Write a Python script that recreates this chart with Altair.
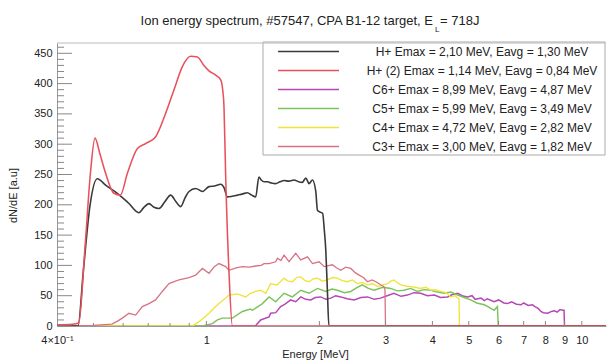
import altair as alt
import pandas as pd

# ---------------- data ----------------
series_names = [
    "H+  Emax = 2,10 MeV, Eavg = 1,30 MeV",
    "H+ (2) Emax = 1,14 MeV, Eavg = 0,84 MeV",
    "C6+ Emax = 8,99 MeV, Eavg = 4,87 MeV",
    "C5+ Emax = 5,99 MeV, Eavg = 3,49 MeV",
    "C4+ Emax = 4,72 MeV, Eavg = 2,82 MeV",
    "C3+ Emax = 3,00 MeV, Eavg = 1,82 MeV",
]
series_colors = ["#3a3a3a", "#e8505c", "#b548b5", "#7cc35a", "#f0e33a", "#d77383"]
series_widths = [1.6, 1.3, 1.1, 1.1, 1.1, 1.1]

hp_E = [0.40, 0.455, 0.47, 0.49, 0.512, 0.54, 0.579, 0.62, 0.661, 0.68, 0.703, 0.725, 0.748,
        0.775, 0.803, 0.83, 0.854, 0.878, 0.899, 0.936, 0.976, 1.016, 1.05, 1.092, 1.115, 1.137,
        1.17, 1.21, 1.25, 1.286, 1.32, 1.353, 1.38, 1.40, 1.424, 1.454, 1.49, 1.53, 1.57, 1.61,
        1.66, 1.712, 1.76, 1.80, 1.84, 1.877, 1.917, 1.956, 1.976, 2.01, 2.04, 2.06, 2.08, 2.10,
        2.12, 11.6]
hp_V = [0, 0, 90, 200, 243, 232, 219, 203, 187, 195, 202, 196, 194, 205, 216, 205, 197, 212,
        222, 227, 222, 230, 231, 234, 228, 213, 214, 216, 218, 220, 216, 213, 246, 241, 238, 238,
        236, 235, 238, 240, 239, 241, 238, 237, 244, 235, 241, 222, 191, 188, 186, 160, 125, 60,
        0, 0]

hp2_E = [0.40, 0.44, 0.457, 0.475, 0.491, 0.505, 0.52, 0.539, 0.567, 0.59, 0.616, 0.655, 0.689,
         0.732, 0.779, 0.819, 0.863, 0.908, 0.946, 0.985, 1.016, 1.059, 1.092, 1.105, 1.114,
         1.125, 1.149, 1.173, 11.6]
hp2_V = [2, 3, 5, 130, 252, 310, 285, 252, 219, 216, 252, 293, 301, 312, 351, 389, 428, 445,
         444, 430, 421, 414, 406, 390, 362, 252, 87, 0, 0]

c6_E = [0.40, 1.35, 1.395, 1.469, 1.483, 1.53, 1.577, 1.62, 1.677, 1.73, 1.784, 1.84, 1.897,
        1.95, 2.017, 2.08, 2.145, 2.21, 2.28, 2.37, 2.475, 2.58, 2.687, 2.8, 2.91, 3.03, 3.16,
        3.3, 3.43, 3.57, 3.72, 3.88, 4.05, 4.2, 4.39, 4.52, 4.67, 4.8, 4.96, 5.1, 5.2, 5.39, 5.5,
        5.6, 5.84, 6.0, 6.2, 6.34, 6.5, 6.7, 6.89, 7.0, 7.2, 7.39, 7.5, 7.65, 7.78, 7.9, 8.12,
        8.3, 8.46, 8.6, 8.75, 8.89, 8.97, 8.99, 11.6]
c6_V = [0, 0, 10, 15, 21, 22, 32, 36, 43, 40, 48, 44, 43, 47, 48, 44, 46, 50, 48, 45, 43, 47,
        48, 44, 46, 50, 54, 49, 51, 55, 54, 50, 51, 47, 48, 52, 54, 50, 48, 50, 44, 46, 42, 45,
        40, 43, 38, 37, 40, 36, 35, 38, 34, 35, 32, 29, 24, 22, 21, 24, 25, 23, 27, 26, 26, 0, 0]

c5_E = [0.40, 0.976, 1.037, 1.07, 1.103, 1.173, 1.247, 1.31, 1.326, 1.395, 1.41, 1.469, 1.53,
        1.546, 1.61, 1.695, 1.784, 1.877, 1.976, 2.08, 2.16, 2.235, 2.33, 2.425, 2.51, 2.6,
        2.7, 2.8, 2.95, 3.1, 3.22, 3.36, 3.5, 3.65, 3.8, 3.96, 4.12, 4.3, 4.48, 4.67, 4.86, 5.06,
        5.25, 5.5, 5.65, 5.84, 5.96, 5.99, 11.6]
c5_V = [0, 0, 4, 10, 13, 13, 24, 28, 26, 35, 37, 48, 40, 43, 54, 48, 59, 54, 62, 57, 61, 59,
        55, 57, 63, 68, 62, 59, 64, 62, 58, 59, 62, 57, 60, 59, 56, 54, 56, 51, 47, 43, 38, 35,
        31, 26, 32, 0, 0]

c4_E = [0.40, 0.918, 0.96, 1.016, 1.05, 1.08, 1.12, 1.149, 1.21, 1.273, 1.31, 1.353, 1.395,
        1.44, 1.483, 1.53, 1.546, 1.61, 1.65, 1.695, 1.74, 1.784, 1.83, 1.877, 1.93, 1.976, 2.04,
        2.1, 2.17, 2.235, 2.3, 2.376, 2.45, 2.527, 2.6, 2.687, 2.77, 2.86, 2.95, 3.04, 3.1, 3.16,
        3.23, 3.3, 3.4, 3.5, 3.6, 3.72, 3.84, 3.96, 4.08, 4.21, 4.35, 4.48, 4.6, 4.67, 4.71, 4.72,
        11.6]
c4_V = [0, 0, 8, 21, 30, 37, 45, 51, 53, 48, 54, 57, 59, 54, 70, 68, 68, 79, 74, 73, 80, 81,
        75, 73, 78, 79, 74, 76, 80, 79, 75, 73, 76, 70, 72, 68, 70, 65, 68, 70, 74, 76, 71, 68,
        66, 65, 64, 62, 64, 59, 60, 57, 55, 48, 50, 46, 44, 0, 0]

c3_E = [0.40, 0.50, 0.56, 0.58, 0.597, 0.622, 0.648, 0.675, 0.703, 0.732, 0.763, 0.795, 0.845,
        0.899, 0.936, 0.976, 1.016, 1.05, 1.08, 1.125, 1.149, 1.2, 1.247, 1.30, 1.353, 1.40,
        1.424, 1.469, 1.53, 1.546, 1.58, 1.61, 1.66, 1.73, 1.784, 1.859, 1.917, 1.996, 2.06,
        2.166, 2.22, 2.28, 2.35, 2.425, 2.49, 2.552, 2.62, 2.687, 2.76, 2.83, 2.91, 2.97, 2.99,
        3.0, 11.6]
c3_V = [0, 1, 3, 8, 13, 21, 18, 32, 37, 43, 57, 70, 76, 80, 84, 95, 87, 98, 103, 98, 92, 96,
        98, 97, 99, 100, 103, 103, 106, 112, 108, 117, 106, 120, 109, 114, 103, 106, 98, 101,
        96, 92, 97, 95, 88, 84, 80, 73, 76, 73, 68, 65, 60, 0, 0]

x_label_values = [0.4, 1, 2, 3, 4, 5, 6, 7, 8, 9, 10]
x_minor_ticks = [0.5, 0.6, 0.7, 0.8, 0.9]
x_major_ticks = [1, 2, 3, 4, 5, 6, 7, 8, 9, 10]
y_major_ticks = list(range(0, 451, 50))
y_minor_ticks = [v for v in range(0, 461, 10) if v % 50 != 0]

title_main = "Ion energy spectrum, #57547, CPA B1-12 target, E"
title_sub = "L"
title_tail = " = 718J"

# ---------------- build tables ----------------
def table(names, Es_list, Vs_list):
    rows = []
    for name, Es, Vs in zip(names, Es_list, Vs_list):
        for e, v in zip(Es, Vs):
            rows.append({"series": name, "E": e, "v": v})
    return pd.DataFrame(rows)

df_p = table(series_names[:2], [hp_E, hp2_E], [hp_V, hp2_V])
df_c = table(series_names[2:], [c6_E, c5_E, c4_E, c3_E], [c6_V, c5_V, c4_V, c3_V])

W, H = 549, 283
FONT = "Liberation Sans"

xscale = alt.Scale(type="log", domain=[0.4, 11.6], nice=False)
yscale = alt.Scale(domain=[0, 467], nice=False)

xaxis = alt.Axis(values=x_label_values,
                 labelExpr="datum.value < 0.5 ? '4×10⁻¹' : format(datum.value, 'd')",
                 ticks=False, grid=False, labelFlush=False, labelOverlap=False,
                 domainColor="#999999", labelFontSize=11, labelPadding=8,
                 labelColor="#222222",
                 title="Energy [MeV]", titleFontSize=11, titleFontWeight="normal",
                 titleColor="#222222", titleX=258, titleY=31,
                 titleBaseline="alphabetic")
yaxis = alt.Axis(values=y_major_ticks, ticks=False, grid=False,
                 domainColor="#999999", labelFontSize=11, labelPadding=5,
                 labelColor="#222222",
                 title="dN/dE [a.u]", titleFontSize=11, titleFontWeight="normal",
                 titleColor="#222222", titleX=-44, titleY=152,
                 titleBaseline="middle")

legend = alt.Legend(orient="none", legendX=220, legendY=-1, title=None,
                    symbolType="stroke", symbolSize=3721, symbolStrokeWidth=1.2,
                    symbolOffset=0, labelFontSize=12, labelFont=FONT, labelColor="#222222",
                    labelAlign="center", labelOffset=142, labelLimit=400,
                    padding=0, rowPadding=0, clipHeight=19)
color = alt.Color("series:N", scale=alt.Scale(domain=series_names, range=series_colors),
                  legend=legend)
swidth = alt.StrokeWidth("series:N", scale=alt.Scale(domain=series_names, range=series_widths),
                         legend=None)

legend_box = alt.Chart(pd.DataFrame({"a": [0]})).mark_rect(
    fill="white", stroke="#aaaaaa", strokeWidth=1).encode(
    x=alt.value(206), x2=alt.value(548), y=alt.value(-1), y2=alt.value(112))

carbon = alt.Chart(df_c).mark_line(clip=True, interpolate="linear").encode(
    x=alt.X("E:Q", scale=xscale, axis=xaxis),
    y=alt.Y("v:Q", scale=yscale, axis=yaxis),
    color=color, strokeWidth=swidth)
protons = alt.Chart(df_p).mark_line(clip=True, interpolate="monotone").encode(
    x=alt.X("E:Q", scale=xscale, axis=xaxis),
    y=alt.Y("v:Q", scale=yscale, axis=yaxis),
    color=color, strokeWidth=swidth)

xt_major = alt.Chart(pd.DataFrame({"E": x_major_ticks})).mark_rule(color="#888888").encode(
    x=alt.X("E:Q", scale=xscale, axis=xaxis), y=alt.value(H), y2=alt.value(H - 5))
xt_minor = alt.Chart(pd.DataFrame({"E": x_minor_ticks})).mark_rule(color="#888888").encode(
    x=alt.X("E:Q", scale=xscale, axis=xaxis), y=alt.value(H), y2=alt.value(H - 3))
yt_major = alt.Chart(pd.DataFrame({"v": y_major_ticks})).mark_rule(color="#888888").encode(
    y=alt.Y("v:Q", scale=yscale, axis=yaxis), x=alt.value(0), x2=alt.value(15))
yt_minor = alt.Chart(pd.DataFrame({"v": y_minor_ticks})).mark_rule(color="#888888").encode(
    y=alt.Y("v:Q", scale=yscale, axis=yaxis), x=alt.value(0), x2=alt.value(7))
top_border = alt.Chart(pd.DataFrame({"a": [0]})).mark_rule(color="#bbbbbb").encode(
    x=alt.value(0), x2=alt.value(W), y=alt.value(0))

t1 = alt.Chart(pd.DataFrame({"t": [title_main]})).mark_text(
    align="right", baseline="alphabetic", fontSize=13, font=FONT, color="#222222").encode(
    text="t:N", x=alt.value(376), y=alt.value(-18))
t2 = alt.Chart(pd.DataFrame({"t": [title_sub]})).mark_text(
    align="left", baseline="alphabetic", fontSize=8, font=FONT, color="#222222").encode(
    text="t:N", x=alt.value(378), y=alt.value(-11))
t3 = alt.Chart(pd.DataFrame({"t": [title_tail]})).mark_text(
    align="left", baseline="alphabetic", fontSize=13, font=FONT, color="#222222").encode(
    text="t:N", x=alt.value(383), y=alt.value(-18))

chart = alt.layer(
    carbon, protons, legend_box, top_border, xt_minor, xt_major, yt_minor, yt_major, t1, t2, t3
).properties(
    width=W, height=H,
    padding={"left": 57, "top": 43, "right": 1, "bottom": 35},
    autosize=alt.AutoSizeParams(type="none"),
).configure(font=FONT).configure_view(stroke=None)

chart.save("out.html", embed_options={"renderer": "svg", "actions": False})
